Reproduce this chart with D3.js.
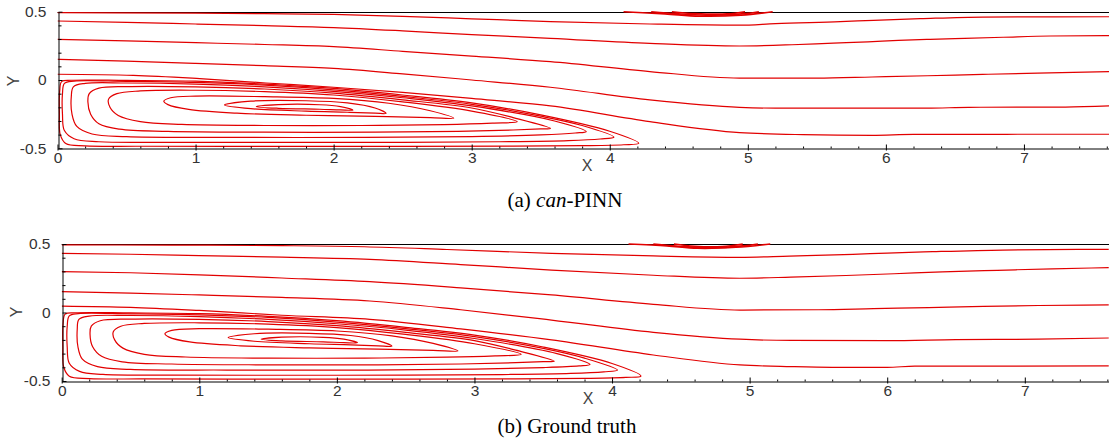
<!DOCTYPE html>
<html>
<head>
<meta charset="utf-8">
<script src="https://cdn.jsdelivr.net/npm/d3@7"></script>
<style>
  html, body { margin: 0; padding: 0; background: #fff; }
  svg { display: block; }
</style>
</head>
<body>
<svg id="chart" width="1109" height="448"></svg>
<script>
// ---------------- DATA ----------------
const xTickValues = [0, 1, 2, 3, 4, 5, 6, 7];
const xMinorTicks = [0.2,0.4,0.6,0.8,1.2,1.4,1.6,1.8,2.2,2.4,2.6,2.8,3.2,3.4,3.6,3.8,4.2,4.4,4.6,4.8,5.2,5.4,5.6,5.8,6.2,6.4,6.6,6.8,7.2,7.4,7.6];
const yTickValues = [0.5, 0, -0.5];
const yTickLabels = ["0.5", "0", "-0.5"];
const yMinorTicks = [0.4,0.3,0.2,0.1,-0.1,-0.2,-0.3,-0.4];
const axisTitles = ["X", "Y"];
const captionA = ["(a) ", "can", "-PINN"];
const captionB = ["(b) Ground truth"];

// Panel (a) can-PINN : streamlines above the recirculation (inlet -> outlet)
const aOuter = [
  [[0,0.493],[1.0,0.489],[1.5,0.486],[2.0,0.48],[2.5,0.466],[3.0,0.448],[3.57,0.428],[4.29,0.41],[4.94,0.401],[5.2,0.413],[5.67,0.427],[5.91,0.437],[6.25,0.449],[6.7,0.461],[7.62,0.463]],
  [[0,0.432],[0.5,0.422],[1.0,0.41],[1.5,0.398],[2.0,0.384],[2.5,0.36],[3.0,0.332],[3.57,0.305],[4.29,0.268],[4.94,0.249],[5.32,0.258],[5.62,0.27],[5.87,0.279],[6.09,0.29],[6.32,0.298],[6.57,0.305],[6.85,0.313],[7.19,0.322],[7.62,0.325]],
  [[0,0.298],[0.5,0.287],[1.0,0.273],[1.5,0.26],[2.0,0.244],[2.5,0.21],[3.0,0.175],[3.57,0.134],[4.29,0.062],[4.94,0.014],[5.5,0.014],[5.9,0.022],[6.3,0.031],[6.7,0.041],[7.1,0.05],[7.62,0.062]],
  [[0,0.152],[0.5,0.138],[1.0,0.122],[1.5,0.105],[2.0,0.085],[2.5,0.045],[3.0,0.0],[3.57,-0.053],[4.29,-0.146],[4.94,-0.2],[5.2,-0.206],[6.3,-0.206],[6.6,-0.2],[7.3,-0.198],[7.62,-0.19]],
  [[0,0.042],[0.55,0.034],[1.03,0.01],[1.51,-0.022],[2.0,-0.053],[2.5,-0.09],[3.0,-0.135],[3.57,-0.19],[4.29,-0.305],[4.94,-0.385],[5.4,-0.4],[5.9,-0.405],[6.2,-0.398],[7.62,-0.397]]
];
// Panel (a): closed recirculation loops behind the step (outer -> inner)
const aLoops = [
  [[4.21,-0.463],[4.0,-0.375],[3.5,-0.255],[3.0,-0.168],[2.5,-0.11],[2.0,-0.062],[1.5,-0.03],[1.0,-0.008],[0.5,-0.003],[0.1,-0.002],[0.03,-0.012],[0.016,-0.08],[0.014,-0.25],[0.02,-0.4],[0.06,-0.465],[0.2,-0.482],[0.6,-0.485],[1.5,-0.486],[2.5,-0.486],[3.3,-0.484],[3.8,-0.481],[4.1,-0.474]],
  [[4.03,-0.418],[3.8,-0.333],[3.5,-0.265],[3.0,-0.178],[2.5,-0.12],[2.0,-0.072],[1.5,-0.038],[1.0,-0.018],[0.5,-0.01],[0.12,-0.008],[0.05,-0.025],[0.036,-0.1],[0.036,-0.25],[0.05,-0.37],[0.12,-0.43],[0.3,-0.452],[0.8,-0.456],[1.6,-0.457],[2.5,-0.456],[3.2,-0.452],[3.7,-0.444],[3.93,-0.432]],
  [[3.83,-0.378],[3.6,-0.3],[3.0,-0.19],[2.5,-0.13],[2.0,-0.083],[1.5,-0.05],[1.0,-0.03],[0.5,-0.022],[0.2,-0.025],[0.115,-0.05],[0.1,-0.12],[0.105,-0.25],[0.14,-0.34],[0.25,-0.395],[0.5,-0.415],[1.2,-0.42],[2.2,-0.42],[3.0,-0.414],[3.5,-0.402],[3.75,-0.388]],
  [[3.57,-0.354],[3.3,-0.275],[3.0,-0.205],[2.5,-0.145],[2.0,-0.096],[1.5,-0.066],[1.0,-0.05],[0.5,-0.048],[0.3,-0.06],[0.23,-0.1],[0.22,-0.16],[0.24,-0.25],[0.3,-0.32],[0.45,-0.36],[0.8,-0.376],[1.5,-0.382],[2.3,-0.382],[2.9,-0.376],[3.3,-0.366],[3.5,-0.358]],
  [[3.33,-0.305],[3.0,-0.228],[2.5,-0.16],[2.0,-0.11],[1.5,-0.085],[1.0,-0.075],[0.6,-0.08],[0.43,-0.1],[0.37,-0.14],[0.38,-0.2],[0.44,-0.26],[0.6,-0.305],[0.9,-0.325],[1.5,-0.333],[2.2,-0.333],[2.8,-0.326],[3.15,-0.315]],
  [[2.87,-0.28],[2.7,-0.225],[2.4,-0.17],[2.0,-0.135],[1.5,-0.122],[1.0,-0.118],[0.82,-0.13],[0.77,-0.155],[0.8,-0.18],[0.95,-0.215],[1.3,-0.243],[1.8,-0.258],[2.3,-0.267],[2.7,-0.275]],
  [[2.38,-0.244],[2.3,-0.205],[2.1,-0.168],[1.8,-0.152],[1.4,-0.155],[1.21,-0.183],[1.4,-0.21],[1.8,-0.228],[2.1,-0.236],[2.3,-0.242]],
  [[2.14,-0.22],[2.05,-0.195],[1.9,-0.181],[1.6,-0.18],[1.44,-0.195],[1.6,-0.207],[1.9,-0.214],[2.05,-0.219]]
];
// Panel (a): small separation bubble under the top wall
const aBubble = [
  [[4.1,0.5],[4.4,0.484],[4.65,0.467],[4.95,0.474],[5.18,0.5]],
  [[4.3,0.5],[4.5,0.484],[4.75,0.474],[4.98,0.486],[5.08,0.5]],
  [[4.45,0.5],[4.62,0.486],[4.85,0.484],[4.98,0.5]]
];

// Panel (b) Ground truth
const bOuter = [
  [[0,0.493],[0.8,0.492],[1.6,0.488],[2.2,0.48],[2.8,0.46],[3.56,0.432],[4.3,0.413],[4.93,0.403],[5.29,0.412],[5.75,0.424],[6.0,0.434],[6.33,0.444],[6.84,0.456],[7.61,0.461]],
  [[0,0.432],[0.5,0.425],[1.0,0.415],[1.6,0.404],[2.24,0.388],[2.9,0.35],[3.56,0.31],[4.3,0.272],[4.93,0.25],[5.3,0.258],[5.7,0.27],[6.05,0.283],[6.4,0.296],[6.8,0.308],[7.2,0.319],[7.61,0.327]],
  [[0,0.298],[0.5,0.29],[1.0,0.275],[1.6,0.252],[2.24,0.225],[2.9,0.18],[3.56,0.128],[4.3,0.06],[4.93,0.018],[5.5,0.02],[5.9,0.028],[6.3,0.036],[6.7,0.045],[7.1,0.051],[7.61,0.056]],
  [[0,0.152],[0.5,0.142],[1.0,0.128],[1.6,0.11],[2.24,0.084],[2.9,0.02],[3.56,-0.055],[4.3,-0.145],[4.93,-0.195],[5.3,-0.204],[6.0,-0.205],[6.5,-0.198],[7.1,-0.195],[7.61,-0.186]],
  [[0,0.047],[0.5,0.038],[1.0,0.015],[1.6,-0.02],[2.24,-0.05],[2.9,-0.12],[3.56,-0.2],[4.3,-0.31],[4.93,-0.383],[5.3,-0.395],[5.6,-0.4],[6.0,-0.4],[6.2,-0.392],[7.61,-0.39]]
];
const bLoops = [
  [[4.21,-0.464],[4.0,-0.372],[3.5,-0.252],[3.0,-0.165],[2.5,-0.108],[2.0,-0.06],[1.5,-0.028],[1.0,-0.008],[0.5,-0.003],[0.1,-0.002],[0.025,-0.012],[0.01,-0.08],[0.008,-0.25],[0.015,-0.4],[0.055,-0.465],[0.2,-0.482],[0.6,-0.485],[1.5,-0.486],[2.5,-0.486],[3.3,-0.484],[3.8,-0.481],[4.1,-0.474]],
  [[4.04,-0.42],[3.8,-0.333],[3.5,-0.262],[3.0,-0.176],[2.5,-0.118],[2.0,-0.07],[1.5,-0.036],[1.0,-0.017],[0.5,-0.01],[0.12,-0.008],[0.055,-0.025],[0.04,-0.1],[0.04,-0.25],[0.055,-0.37],[0.13,-0.43],[0.3,-0.452],[0.8,-0.457],[1.6,-0.458],[2.5,-0.457],[3.2,-0.453],[3.7,-0.445],[3.94,-0.433]],
  [[3.84,-0.38],[3.6,-0.3],[3.0,-0.19],[2.5,-0.128],[2.0,-0.082],[1.5,-0.05],[1.0,-0.03],[0.5,-0.022],[0.2,-0.026],[0.125,-0.05],[0.113,-0.12],[0.118,-0.25],[0.15,-0.34],[0.26,-0.395],[0.5,-0.415],[1.2,-0.42],[2.2,-0.42],[3.0,-0.414],[3.5,-0.402],[3.76,-0.39]],
  [[3.58,-0.355],[3.3,-0.275],[3.0,-0.205],[2.5,-0.145],[2.0,-0.096],[1.5,-0.066],[1.0,-0.05],[0.5,-0.048],[0.28,-0.06],[0.215,-0.1],[0.206,-0.16],[0.225,-0.25],[0.29,-0.32],[0.44,-0.36],[0.8,-0.376],[1.5,-0.382],[2.3,-0.382],[2.9,-0.376],[3.3,-0.366],[3.5,-0.359]],
  [[3.34,-0.306],[3.0,-0.228],[2.5,-0.16],[2.0,-0.11],[1.5,-0.085],[1.0,-0.075],[0.6,-0.08],[0.43,-0.1],[0.375,-0.14],[0.385,-0.2],[0.445,-0.26],[0.6,-0.305],[0.9,-0.325],[1.5,-0.333],[2.2,-0.333],[2.8,-0.326],[3.15,-0.316]],
  [[2.88,-0.281],[2.7,-0.225],[2.4,-0.17],[2.0,-0.135],[1.5,-0.122],[1.0,-0.118],[0.8,-0.13],[0.75,-0.155],[0.78,-0.18],[0.93,-0.215],[1.3,-0.243],[1.8,-0.258],[2.3,-0.267],[2.7,-0.276]],
  [[2.4,-0.245],[2.3,-0.205],[2.1,-0.168],[1.8,-0.152],[1.4,-0.155],[1.21,-0.183],[1.4,-0.21],[1.8,-0.228],[2.1,-0.236],[2.3,-0.243]],
  [[2.15,-0.221],[2.05,-0.195],[1.9,-0.181],[1.6,-0.18],[1.45,-0.195],[1.6,-0.207],[1.9,-0.214],[2.05,-0.22]]
];
const bBubble = [
  [[4.12,0.5],[4.4,0.486],[4.62,0.469],[4.9,0.476],[5.15,0.5]],
  [[4.3,0.5],[4.5,0.482],[4.72,0.472],[4.95,0.486],[5.06,0.5]],
  [[4.45,0.5],[4.6,0.484],[4.8,0.482],[4.95,0.5]]
];

// ---------------- DRAW ----------------
const svg = d3.select("#chart");
const RED = "#e20000";

function drawPanel(cfg) {
  const g = svg.append("g");
  const x = d3.scaleLinear().domain([0, cfg.xMax]).range([cfg.left, 1109]);
  const y = d3.scaleLinear().domain([-0.5, 0.5]).range([cfg.bottom, cfg.top]);

  // top wall (drawn first so the red bubble sits on it)
  g.append("line").attr("x1", x(0)).attr("x2", 1109)
    .attr("y1", Math.round(y(0.5)) + 0.5).attr("y2", Math.round(y(0.5)) + 0.5)
    .attr("stroke", "#000").attr("stroke-width", 1);

  const clipId = "clip" + cfg.id;
  svg.append("clipPath").attr("id", clipId)
    .append("rect").attr("x", cfg.left).attr("y", cfg.top - 1)
    .attr("width", 1109 - cfg.left).attr("height", cfg.bottom - cfg.top + 2);

  const plot = g.append("g").attr("clip-path", `url(#${clipId})`);
  const lineOpen = d3.line().x(d => x(d[0])).y(d => y(d[1])).curve(d3.curveMonotoneX);
  const lineBub = d3.line().x(d => x(d[0])).y(d => y(d[1])).curve(d3.curveCatmullRom.alpha(0.5));
  const lineLoop = d3.line().x(d => x(d[0])).y(d => y(d[1])).curve(d3.curveCatmullRomClosed.alpha(0.5));

  plot.selectAll("path.outer").data(cfg.outer).join("path")
    .attr("class", "outer").attr("d", lineOpen)
    .attr("fill", "none").attr("stroke", RED).attr("stroke-width", 1.2);
  plot.selectAll("path.loop").data(cfg.loops).join("path")
    .attr("class", "loop").attr("d", lineLoop)
    .attr("fill", "none").attr("stroke", RED).attr("stroke-width", 1.2);
  plot.selectAll("path.bub").data(cfg.bubble).join("path")
    .attr("class", "bub").attr("d", lineBub)
    .attr("fill", "none").attr("stroke", RED).attr("stroke-width", 1.6);

  const fontTick = "'Liberation Sans', Arial, sans-serif";
  // bottom axis major
  const yb = Math.round(y(-0.5)) + 0.5;
  const ax = g.append("g").attr("transform", `translate(0,${yb})`)
    .call(d3.axisBottom(x).tickValues(xTickValues).tickFormat(d3.format("d"))
      .tickSizeInner(-4).tickSizeOuter(0).tickPadding(3));
  ax.select(".domain").attr("stroke", "#000");
  ax.selectAll(".tick line").attr("stroke", "#000").attr("y2", -4).attr("y1", 2);
  ax.selectAll("text").attr("fill", "#333").attr("font-size", 15.5).attr("font-family", fontTick);
  // bottom axis minor
  const axm = g.append("g").attr("transform", `translate(0,${yb})`)
    .call(d3.axisBottom(x).tickValues(xMinorTicks).tickFormat("").tickSizeInner(-2).tickSizeOuter(0));
  axm.select(".domain").remove();
  axm.selectAll(".tick line").attr("stroke", "#000");

  // left axis
  const xl = Math.round(x(0)) + 0.5;
  const ay = g.append("g").attr("transform", `translate(${xl},0)`)
    .call(d3.axisLeft(y).tickValues(yTickValues).tickFormat((d, i) => yTickLabels[i])
      .tickSizeInner(-4).tickSizeOuter(0).tickPadding(12));
  ay.select(".domain").attr("stroke", "#000");
  ay.selectAll(".tick line").attr("stroke", "#000");
  ay.selectAll("text").attr("fill", "#333").attr("font-size", 15.5).attr("font-family", fontTick);
  const aym = g.append("g").attr("transform", `translate(${xl},0)`)
    .call(d3.axisLeft(y).tickValues(yMinorTicks).tickFormat("").tickSizeInner(-3).tickSizeOuter(0));
  aym.select(".domain").remove();
  aym.selectAll(".tick line").attr("stroke", "#000");

  // axis titles
  g.append("text").attr("x", cfg.xTitle[0]).attr("y", cfg.xTitle[1])
    .attr("text-anchor", "middle").attr("dominant-baseline", "central")
    .attr("font-family", fontTick).attr("font-size", 16).attr("fill", "#444")
    .text(axisTitles[0]);
  g.append("text").attr("transform", `translate(${cfg.yTitle[0]},${cfg.yTitle[1]}) rotate(-90)`)
    .attr("text-anchor", "middle").attr("dominant-baseline", "central")
    .attr("font-family", fontTick).attr("font-size", 16).attr("fill", "#444")
    .text(axisTitles[1]);

  // caption
  const cap = svg.append("text").attr("x", cfg.caption[0]).attr("y", cfg.caption[1])
    .attr("text-anchor", "middle")
    .attr("font-family", "'Liberation Serif', 'Times New Roman', serif")
    .attr("font-size", 21).attr("fill", "#000");
  cfg.captionParts.forEach((t, i) => {
    cap.append("tspan").text(t).attr("font-style", (cfg.italicIndex === i) ? "italic" : "normal");
  });
}

drawPanel({
  id: "A", left: 57.5, xMax: 7.616, top: 11.7, bottom: 148.3,
  outer: aOuter, loops: aLoops, bubble: aBubble,
  xTitle: [587, 165], yTitle: [13, 81],
  caption: [565, 207], captionParts: captionA, italicIndex: 1
});
drawPanel({
  id: "B", left: 61.7, xMax: 7.612, top: 244, bottom: 381,
  outer: bOuter, loops: bLoops, bubble: bBubble,
  xTitle: [588, 398], yTitle: [16, 312],
  caption: [567, 433], captionParts: captionB, italicIndex: -1
});
</script>
</body>
</html>
